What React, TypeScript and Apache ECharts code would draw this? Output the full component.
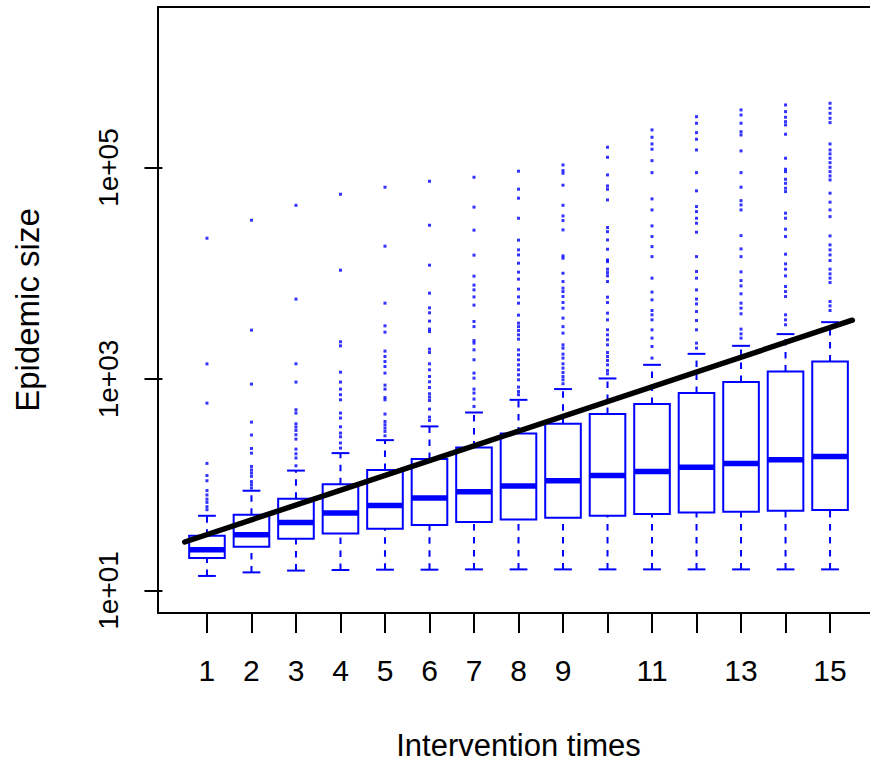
import React, { useEffect, useRef } from "react";
import * as echarts from "echarts";

// Intervention time (category position on the x axis)
const times = [1, 2, 3, 4, 5, 6, 7, 8, 9, 10, 11, 12, 13, 14, 15];
// x tick labels that are printed (the rest are dropped for spacing)
const timeLabels = [1, 2, 3, 4, 5, 6, 7, 8, 9, 11, 13, 15];
// y tick labels
const sizeTicks = [10, 1000, 100000];

// Box statistics of epidemic size per intervention time
const lowerWhisker = [13.7, 14.8, 15.4, 15.6, 15.7, 15.7, 15.8, 15.8, 15.8, 15.8, 15.8, 15.8, 15.8, 15.8, 15.8];
const lowerQuartile = [20.2, 25.9, 30.8, 34.6, 38.3, 41.5, 44.4, 46.9, 48.6, 50.8, 52.7, 54.6, 55.4, 56.7, 57.5];
const medianSize = [24.3, 33.6, 43.9, 54.0, 63.7, 74.8, 85.7, 97.0, 109, 122, 133, 146, 159, 172, 185];
const upperQuartile = [32.9, 52.0, 73.6, 101, 138, 175, 225, 305, 377, 466, 579, 736, 935, 1178, 1466];
const upperWhisker = [50.8, 87.7, 136, 199, 264, 356, 482, 635, 803, 1012, 1362, 1730, 2060, 2660, 3450];

// Outlying epidemic sizes per intervention time
const outliers1 = [21500, 1390, 591, 159, 122, 109, 88, 80, 73, 68, 62, 58];
const outliers2 = [31800, 2900, 895, 391, 295, 220, 199, 149, 138, 129, 120, 107, 100, 93];
const outliers3 = [44000, 5700, 1393, 935, 512, 476, 377, 351, 326, 297, 270, 217, 196, 179, 151];
const outliers4 = [56000, 10700, 2250, 2060, 1160, 935, 802, 710, 636, 476, 427, 353, 308, 284, 248, 222];
const outliers5 = [65300, 18070, 5220, 3184, 2775, 1836, 1633, 1463, 1313, 1137, 875, 802, 668, 636, 466, 396, 369, 343, 319, 290];
const outliers6 = [74300, 28500, 11940, 6490, 4710, 4230, 3530, 2965, 2812, 1918, 1782, 1393, 1222, 1056, 941, 831, 725, 674, 627, 519, 436, 405];
const outliers7 = [81100, 42300, 25600, 14860, 9400, 7730, 6970, 5980, 5000, 3500, 3130, 2310, 2185, 1888, 1520, 1137, 1019, 802, 736, 646, 550];
const outliers8 = [92500, 62500, 51400, 33200, 20600, 16670, 14930, 12470, 10260, 8810, 7080, 5980, 5220, 4020, 3380, 3130, 2877, 2618, 2384, 1888, 1694, 1520, 1362, 1222, 1096, 983, 838, 762, 710];
const outliers9 = [106000, 93700, 88500, 68200, 44000, 34900, 31550, 25760, 14620, 13900, 10020, 8360, 7240, 6720, 6030, 5290, 4680, 3770, 3130, 2717, 2105, 1960, 1719, 1577, 1393, 1268, 1151, 1056, 983, 901];
const outliers10 = [156000, 125300, 85300, 67100, 62500, 49500, 27100, 24800, 20700, 16900, 13400, 12900, 10940, 10160, 9460, 8360, 5950, 5290, 4200, 3630, 2920, 2618, 2350, 2105, 1782, 1633, 1496, 1362, 1203, 1119];
const outliers11 = [227500, 193800, 167500, 149300, 116400, 89700, 50600, 39800, 28100, 22280, 17900, 14390, 9000, 6640, 5610, 4450, 4050, 3630, 2920, 2438, 2030, 1577];
const outliers12 = [303500, 263000, 214300, 185700, 147000, 89700, 60300, 42800, 38370, 33200, 29800, 24500, 14390, 10400, 9000, 6970, 5700, 5140, 4350, 3575, 2920, 2185, 1960];
const outliers13 = [351600, 314800, 263000, 218800, 203700, 143900, 89700, 65300, 48700, 44400, 39800, 22750, 17020, 14390, 10320, 8540, 7600, 6400, 5220, 4680, 4140, 2965, 2675, 2438];
const outliers14 = [391700, 338800, 299900, 272300, 253500, 207000, 122700, 96600, 91600, 77600, 71100, 63800, 59300, 37070, 33200, 26140, 22280, 15170, 12280, 10940, 9460, 7500, 6720, 6030, 4050, 3630, 3257];
const outliers15 = [406400, 364700, 326600, 293100, 266600, 167500, 147000, 134900, 122700, 111400, 100900, 91600, 83500, 76500, 57300, 47100, 39800, 34400, 22600, 18580, 16670, 14930, 13210, 10940, 9880, 9000, 8180, 5410, 4920, 4450];

const outliersByTime = [
  outliers1, outliers2, outliers3, outliers4, outliers5,
  outliers6, outliers7, outliers8, outliers9, outliers10,
  outliers11, outliers12, outliers13, outliers14, outliers15,
];

// Fitted exponential growth curve, evaluated at its two ends
const curveTimes = [0.5, 15.5];
const curveSizes = [28.7, 3600];

const BLUE = "#0000ff";
const FONT = "'Liberation Sans', Arial, Helvetica, sans-serif";

export default function App() {
  const ref = useRef<HTMLDivElement | null>(null);

  useEffect(() => {
    document.body.style.margin = "0";
    if (!ref.current) return;
    const chart = echarts.init(ref.current, null, { renderer: "svg" });

    const boxData = times.map((t, i) => [
      t,
      lowerWhisker[i],
      lowerQuartile[i],
      medianSize[i],
      upperQuartile[i],
      upperWhisker[i],
    ]);

    const outlierPoints: number[][] = [];
    outliersByTime.forEach((list, i) => {
      list.forEach((v) => outlierPoints.push([times[i], v]));
    });

    const curveData = curveTimes.map((t, i) => [t, curveSizes[i]]);

    const renderBox = (params: any, api: any) => {
      const t = api.value(0);
      const low = api.coord([t, api.value(1)]);
      const q1 = api.coord([t, api.value(2)]);
      const med = api.coord([t, api.value(3)]);
      const q3 = api.coord([t, api.value(4)]);
      const high = api.coord([t, api.value(5)]);
      const cx = low[0];
      const bw = api.size([0.8, 0], [t, 10])[0];
      const half = bw / 2;
      const capHalf = bw / 4;
      const thin = { stroke: BLUE, lineWidth: 2, fill: "none" };
      const dashed = { stroke: BLUE, lineWidth: 2, lineDash: [6.5, 6.5], fill: "none" };
      return {
        type: "group",
        children: [
          {
            type: "line",
            shape: { x1: cx, y1: low[1], x2: cx, y2: q1[1] },
            style: dashed,
          },
          {
            type: "line",
            shape: { x1: cx, y1: q3[1], x2: cx, y2: high[1] },
            style: dashed,
          },
          {
            type: "line",
            shape: { x1: cx - capHalf, y1: low[1], x2: cx + capHalf, y2: low[1] },
            style: thin,
          },
          {
            type: "line",
            shape: { x1: cx - capHalf, y1: high[1], x2: cx + capHalf, y2: high[1] },
            style: thin,
          },
          {
            type: "rect",
            shape: { x: cx - half, y: q3[1], width: bw, height: q1[1] - q3[1] },
            style: thin,
          },
          {
            type: "line",
            shape: { x1: cx - half, y1: med[1], x2: cx + half, y2: med[1] },
            style: { stroke: BLUE, lineWidth: 5.5 },
          },
        ],
      };
    };

    const expLabel = (v: number) => {
      const e = Math.round(Math.log10(v));
      return "1e+" + String(e).padStart(2, "0");
    };

    chart.setOption({
      animation: false,
      backgroundColor: "#ffffff",
      textStyle: { fontFamily: FONT },
      grid: {
        left: 158,
        top: 7,
        width: 721,
        height: 606,
        outerBoundsMode: "none",
        containLabel: false,
        show: true,
        borderColor: "#000000",
        borderWidth: 2,
        backgroundColor: "transparent",
      },
      xAxis: {
        type: "value",
        min: -0.1,
        max: 16.1,
        splitLine: { show: false },
        axisLine: { show: false },
        axisTick: {
          show: true,
          length: 20,
          customValues: times,
          lineStyle: { color: "#000000", width: 2 },
        },
        axisLabel: {
          customValues: timeLabels,
          margin: 42,
          fontSize: 30,
          color: "#000000",
          fontFamily: FONT,
        },
        name: "Intervention times",
        nameLocation: "middle",
        nameGap: 119,
        nameTextStyle: { fontSize: 31, lineHeight: 26, color: "#000000", fontFamily: FONT },
      },
      yAxis: {
        type: "log",
        logBase: 10,
        min: 6.11,
        max: 3.31e6,
        splitLine: { show: false },
        axisLine: { show: false },
        axisTick: {
          show: true,
          length: 18,
          customValues: sizeTicks,
          lineStyle: { color: "#000000", width: 2 },
        },
        axisLabel: {
          customValues: sizeTicks,
          rotate: 90,
          margin: 36,
          fontSize: 28,
          color: "#000000",
          fontFamily: FONT,
          formatter: expLabel,
        },
        name: "Epidemic size",
        nameLocation: "middle",
        nameGap: 114,
        nameTextStyle: { fontSize: 33, color: "#000000", fontFamily: FONT },
      },
      series: [
        {
          type: "custom",
          name: "box",
          renderItem: renderBox,
          data: boxData,
          encode: { x: 0, y: [1, 2, 3, 4, 5] },
          z: 2,
        },
        {
          type: "scatter",
          name: "outliers",
          data: outlierPoints,
          symbol: "rect",
          symbolSize: 3,
          itemStyle: { color: BLUE },
          z: 3,
        },
        {
          type: "line",
          name: "growth",
          data: curveData,
          showSymbol: false,
          symbol: "none",
          lineStyle: { color: "#000000", width: 5.5, cap: "round" },
          z: 4,
        },
      ],
    });

    return () => chart.dispose();
  }, []);

  return <div ref={ref} style={{ width: 870, height: 763 }} />;
}
